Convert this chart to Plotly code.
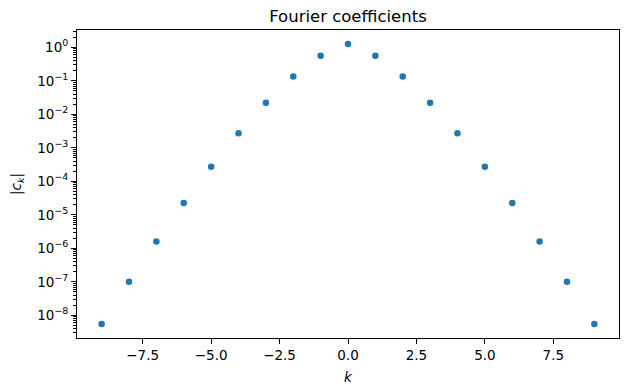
import plotly.graph_objects as go

k_values = [-9, -8, -7, -6, -5, -4, -3, -2, -1, 0, 1, 2, 3, 4, 5, 6, 7, 8, 9]
abs_ck = [5.5e-9, 1.0e-7, 1.6e-6, 2.25e-5, 2.71e-4, 2.74e-3, 2.22e-2, 0.136, 0.565,
          1.266,
          0.565, 0.136, 2.22e-2, 2.74e-3, 2.71e-4, 2.25e-5, 1.6e-6, 1.0e-7, 5.5e-9]

x_tickvals = [-7.5, -5.0, -2.5, 0.0, 2.5, 5.0, 7.5]
x_ticktext = ["\u22127.5", "\u22125.0", "\u22122.5", "0.0", "2.5", "5.0", "7.5"]
y_exponents = [0, -1, -2, -3, -4, -5, -6, -7, -8]
y_tickvals = [10.0 ** e for e in y_exponents]
y_ticktext = ["10<sup>%s</sup>" % (str(e).replace("-", "\u2212")) for e in y_exponents]
y_minor_vals = [d * 10.0 ** e for e in range(-9, 1) for d in range(2, 10)]

font = "DejaVu Sans"

fig = go.Figure(go.Scatter(
    x=k_values, y=abs_ck, mode="markers",
    marker=dict(color="#1f77b4", size=6.5, line=dict(width=0)),
    cliponaxis=False,
))

fig.update_layout(
    width=629, height=392,
    margin=dict(l=77, r=10, t=30, b=54, autoexpand=False),
    paper_bgcolor="white", plot_bgcolor="white",
    font=dict(family=font, size=14, color="black"),
    showlegend=False,
    title=dict(text="Fourier coefficients", x=0.5, xref="paper", xanchor="center",
               y=1 - 16 / 392, yref="container", yanchor="middle", automargin=False,
               font=dict(family=font, size=16.5, color="black")),
)

fig.update_xaxes(
    range=[-9.9, 9.9], tickvals=x_tickvals, ticktext=x_ticktext,
    showgrid=False, zeroline=False, automargin=False,
    showline=True, mirror=True, linecolor="black", linewidth=1,
    ticks="outside", ticklen=5, tickwidth=1, tickcolor="black",
    tickfont=dict(family=font, size=13.5),
    title=dict(text="<i>k</i>", font=dict(family=font, size=13.5), standoff=10),
)

fig.update_yaxes(
    type="log", range=[-8.678, 0.520],
    tickvals=y_tickvals, ticktext=y_ticktext,
    showgrid=False, zeroline=False, automargin=False,
    showline=True, mirror=True, linecolor="black", linewidth=1,
    ticks="outside", ticklen=5, tickwidth=1, tickcolor="black",
    tickfont=dict(family=font, size=13.5),
    minor=dict(ticks="outside", ticklen=3, tickwidth=0.8, tickcolor="black",
               tickmode="array", tickvals=y_minor_vals, showgrid=False),
    title=dict(text="|<i>c</i><sub><i>k</i></sub>|", font=dict(family=font, size=13.5), standoff=12),
)

fig.write_html("out.html", config={"displayModeBar": False},
               post_script="document.body.style.margin='0';document.body.style.padding='0';")
